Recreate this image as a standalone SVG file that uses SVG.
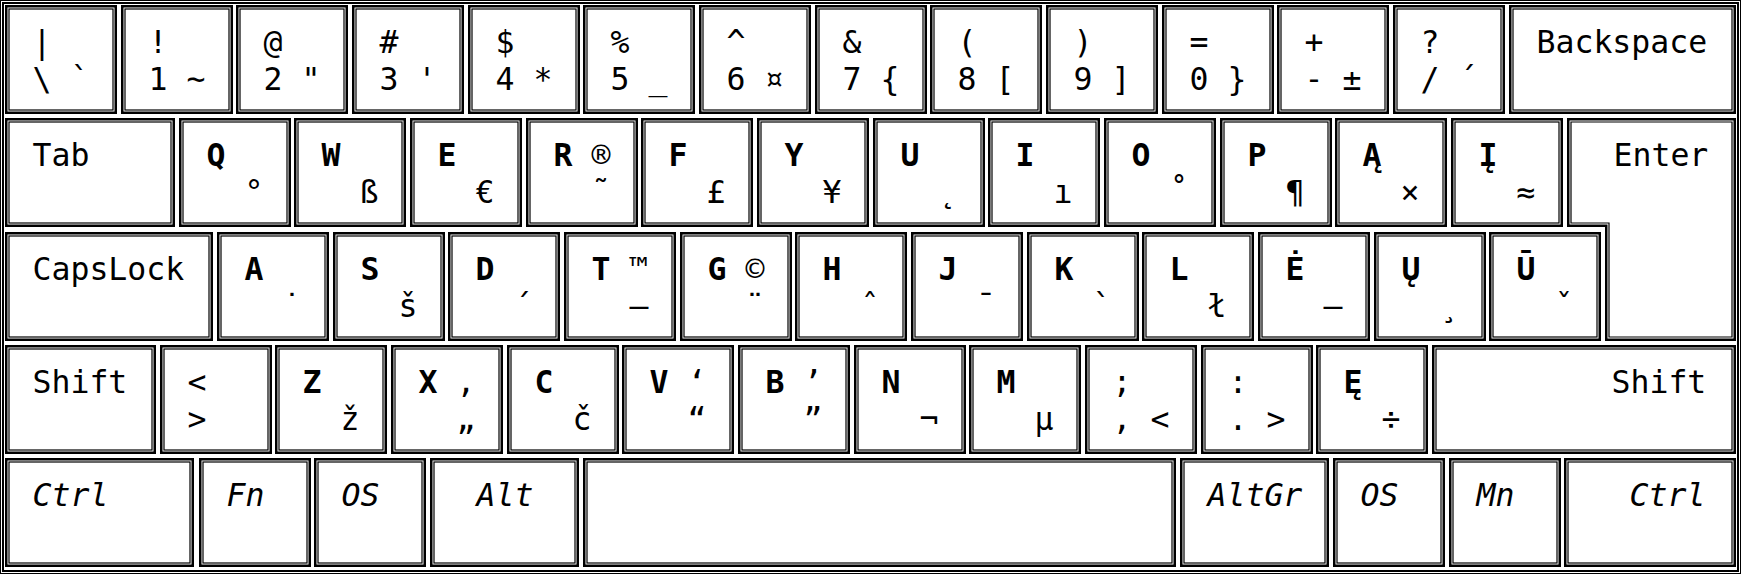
<svg xmlns="http://www.w3.org/2000/svg" xmlns:xlink="http://www.w3.org/1999/xlink" width="1741" height="574" viewBox="0 0 1741 574">
<style>
.o{fill:#fff;stroke:#000;stroke-width:2.5}
.n{fill:none;stroke:#000;stroke-width:1.2}
text{font-family:"DejaVu Sans Mono",monospace;font-size:31.5px;fill:#000}
.b{font-weight:bold}
.i{font-style:italic}
</style>
<defs>
<g id="u"><rect class="o" x="1.25" y="1.25" width="109.5" height="106.5"/><rect class="n" x="4" y="4" width="104" height="101"/></g>
</defs>
<rect x="0" y="0" width="1741" height="574" fill="#fff"/>
<g id="frame"><rect x="0.5" y="0.5" width="1740" height="573" fill="none" stroke="#000" stroke-width="1"/><rect x="3" y="3" width="1735" height="568" fill="none" stroke="#000" stroke-width="2"/></g>
<g id="connectors"></g>
<!-- Row 1 -->
<g id="k-backslash" transform="translate(5,5)"><use href="#u"/><text x="27.5" y="48">|</text><text x="27.5" y="85">\</text><text x="65.5" y="85">`</text></g>
<g id="k-1" transform="translate(121,5)"><use href="#u"/><text x="27.5" y="48">!</text><text x="27.5" y="85">1</text><text x="65.5" y="85">~</text></g>
<g id="k-2" transform="translate(236,5)"><use href="#u"/><text x="27.5" y="48">@</text><text x="27.5" y="85">2</text><text x="65.5" y="85">"</text></g>
<g id="k-3" transform="translate(352,5)"><use href="#u"/><text x="27.5" y="48">#</text><text x="27.5" y="85">3</text><text x="65.5" y="85">'</text></g>
<g id="k-4" transform="translate(468,5)"><use href="#u"/><text x="27.5" y="48">$</text><text x="27.5" y="85">4</text><text x="65.5" y="85">*</text></g>
<g id="k-5" transform="translate(583,5)"><use href="#u"/><text x="27.5" y="48">%</text><text x="27.5" y="85">5</text><text x="65.5" y="85">_</text></g>
<g id="k-6" transform="translate(699,5)"><use href="#u"/><text x="27.5" y="48">^</text><text x="27.5" y="85">6</text><text x="65.5" y="85">¤</text></g>
<g id="k-7" transform="translate(815,5)"><use href="#u"/><text x="27.5" y="48">&amp;</text><text x="27.5" y="85">7</text><text x="65.5" y="85">{</text></g>
<g id="k-8" transform="translate(930,5)"><use href="#u"/><text x="27.5" y="48">(</text><text x="27.5" y="85">8</text><text x="65.5" y="85">[</text></g>
<g id="k-9" transform="translate(1046,5)"><use href="#u"/><text x="27.5" y="48">)</text><text x="27.5" y="85">9</text><text x="65.5" y="85">]</text></g>
<g id="k-0" transform="translate(1162,5)"><use href="#u"/><text x="27.5" y="48">=</text><text x="27.5" y="85">0</text><text x="65.5" y="85">}</text></g>
<g id="k-minus" transform="translate(1277,5)"><use href="#u"/><text x="27.5" y="48">+</text><text x="27.5" y="85">-</text><text x="65.5" y="85">±</text></g>
<g id="k-slash" transform="translate(1393,5)"><use href="#u"/><text x="27.5" y="48">?</text><text x="27.5" y="85">/</text><text x="65.5" y="85">´</text></g>
<g id="k-backspace" transform="translate(1509,5)"><rect class="o" x="1.25" y="1.25" width="224.5" height="106.5"/><rect class="n" x="4" y="4" width="219" height="101"/><text x="27.5" y="48">Backspace</text></g>
<!-- Row 2 -->
<g id="k-tab" transform="translate(5,118)"><rect class="o" x="1.25" y="1.25" width="167.5" height="106.5"/><rect class="n" x="4" y="4" width="162" height="101"/><text x="27.5" y="48">Tab</text></g>
<g id="k-q" transform="translate(179,118)"><use href="#u"/><text class="b" x="27.5" y="48">Q</text><text x="65.5" y="85">°</text></g>
<g id="k-w" transform="translate(294,118)"><use href="#u"/><text class="b" x="27.5" y="48">W</text><text x="65.5" y="85">ß</text></g>
<g id="k-e" transform="translate(410,118)"><use href="#u"/><text class="b" x="27.5" y="48">E</text><text x="65.5" y="85">€</text></g>
<g id="k-r" transform="translate(526,118)"><use href="#u"/><text class="b" x="27.5" y="48">R</text><text x="65.5" y="48">®</text><text x="65.5" y="85">˜</text></g>
<g id="k-f" transform="translate(641,118)"><use href="#u"/><text class="b" x="27.5" y="48">F</text><text x="65.5" y="85">£</text></g>
<g id="k-y" transform="translate(757,118)"><use href="#u"/><text class="b" x="27.5" y="48">Y</text><text x="65.5" y="85">¥</text></g>
<g id="k-u" transform="translate(873,118)"><use href="#u"/><text class="b" x="27.5" y="48">U</text><text x="65.5" y="85">˛</text></g>
<g id="k-i" transform="translate(988,118)"><use href="#u"/><text class="b" x="27.5" y="48">I</text><text x="65.5" y="85">ı</text></g>
<g id="k-o" transform="translate(1104,118)"><use href="#u"/><text class="b" x="27.5" y="48">O</text><text x="65.5" y="85">˚</text></g>
<g id="k-p" transform="translate(1220,118)"><use href="#u"/><text class="b" x="27.5" y="48">P</text><text x="65.5" y="85">¶</text></g>
<g id="k-aogonek" transform="translate(1335,118)"><use href="#u"/><text class="b" x="27.5" y="48">Ą</text><text x="65.5" y="85">×</text></g>
<g id="k-iogonek" transform="translate(1451,118)"><use href="#u"/><text class="b" x="27.5" y="48">Į</text><text x="65.5" y="85">≈</text></g>
<g id="k-enter"><path class="o" d="M1568.25,119.25 H1734.75 V339.75 H1606.25 V225.75 H1568.25 Z"/><path class="n" d="M1571,122 H1732 V337 H1609 V223 H1571 Z"/><text x="1613.5" y="166">Enter</text></g>
<!-- Row 3 -->
<g id="k-capslock" transform="translate(5,232)"><rect class="o" x="1.25" y="1.25" width="205.5" height="106.5"/><rect class="n" x="4" y="4" width="200" height="101"/><text x="27.5" y="48">CapsLock</text></g>
<g id="k-a" transform="translate(217,232)"><use href="#u"/><text class="b" x="27.5" y="48">A</text><text x="65.5" y="85">˙</text></g>
<g id="k-s" transform="translate(333,232)"><use href="#u"/><text class="b" x="27.5" y="48">S</text><text x="65.5" y="85">š</text></g>
<g id="k-d" transform="translate(448,232)"><use href="#u"/><text class="b" x="27.5" y="48">D</text><text x="65.5" y="85">´</text></g>
<g id="k-t" transform="translate(564,232)"><use href="#u"/><text class="b" x="27.5" y="48">T</text><text x="65.5" y="48">™</text><text x="65.5" y="85">—</text></g>
<g id="k-g" transform="translate(680,232)"><use href="#u"/><text class="b" x="27.5" y="48">G</text><text x="65.5" y="48">©</text><text x="65.5" y="85">¨</text></g>
<g id="k-h" transform="translate(795,232)"><use href="#u"/><text class="b" x="27.5" y="48">H</text><text x="65.5" y="85">ˆ</text></g>
<g id="k-j" transform="translate(911,232)"><use href="#u"/><text class="b" x="27.5" y="48">J</text><text x="65.5" y="85">¯</text></g>
<g id="k-k" transform="translate(1027,232)"><use href="#u"/><text class="b" x="27.5" y="48">K</text><text x="65.5" y="85">`</text></g>
<g id="k-l" transform="translate(1142,232)"><use href="#u"/><text class="b" x="27.5" y="48">L</text><text x="65.5" y="85">ł</text></g>
<g id="k-edot" transform="translate(1258,232)"><use href="#u"/><text class="b" x="27.5" y="48">Ė</text><text x="65.5" y="85">–</text></g>
<g id="k-uogonek" transform="translate(1374,232)"><use href="#u"/><text class="b" x="27.5" y="48">Ų</text><text x="65.5" y="85">¸</text></g>
<g id="k-umacron" transform="translate(1489,232)"><use href="#u"/><text class="b" x="27.5" y="48">Ū</text><text x="65.5" y="85">ˇ</text></g>
<!-- Row 4 -->
<g id="k-lshift" transform="translate(5,345)"><rect class="o" x="1.25" y="1.25" width="148.5" height="106.5"/><rect class="n" x="4" y="4" width="143" height="101"/><text x="27.5" y="48">Shift</text></g>
<g id="k-less" transform="translate(160,345)"><use href="#u"/><text x="27.5" y="48">&lt;</text><text x="27.5" y="85">&gt;</text></g>
<g id="k-z" transform="translate(275,345)"><use href="#u"/><text class="b" x="27.5" y="48">Z</text><text x="65.5" y="85">ž</text></g>
<g id="k-x" transform="translate(391,345)"><use href="#u"/><text class="b" x="27.5" y="48">X</text><text x="65.5" y="48">‚</text><text x="65.5" y="85">„</text></g>
<g id="k-c" transform="translate(507,345)"><use href="#u"/><text class="b" x="27.5" y="48">C</text><text x="65.5" y="85">č</text></g>
<g id="k-v" transform="translate(622,345)"><use href="#u"/><text class="b" x="27.5" y="48">V</text><text x="65.5" y="48">‘</text><text x="65.5" y="85">“</text></g>
<g id="k-b" transform="translate(738,345)"><use href="#u"/><text class="b" x="27.5" y="48">B</text><text x="65.5" y="48">’</text><text x="65.5" y="85">”</text></g>
<g id="k-n" transform="translate(854,345)"><use href="#u"/><text class="b" x="27.5" y="48">N</text><text x="65.5" y="85">¬</text></g>
<g id="k-m" transform="translate(969,345)"><use href="#u"/><text class="b" x="27.5" y="48">M</text><text x="65.5" y="85">µ</text></g>
<g id="k-comma" transform="translate(1085,345)"><use href="#u"/><text x="27.5" y="48">;</text><text x="27.5" y="85">,</text><text x="65.5" y="85">&lt;</text></g>
<g id="k-period" transform="translate(1201,345)"><use href="#u"/><text x="27.5" y="48">:</text><text x="27.5" y="85">.</text><text x="65.5" y="85">&gt;</text></g>
<g id="k-eogonek" transform="translate(1316,345)"><use href="#u"/><text class="b" x="27.5" y="48">Ę</text><text x="65.5" y="85">÷</text></g>
<g id="k-rshift" transform="translate(1432,345)"><rect class="o" x="1.25" y="1.25" width="301.5" height="106.5"/><rect class="n" x="4" y="4" width="296" height="101"/><text x="179.5" y="48">Shift</text></g>
<!-- Row 5 -->
<g id="k-lctrl" transform="translate(5,458)"><rect class="o" x="1.25" y="1.25" width="186.5" height="106.5"/><rect class="n" x="4" y="4" width="181" height="101"/><text class="i" x="27.5" y="48">Ctrl</text></g>
<g id="k-fn" transform="translate(199,458)"><use href="#u"/><text class="i" x="27.5" y="48">Fn</text></g>
<g id="k-los" transform="translate(314,458)"><use href="#u"/><text class="i" x="27.5" y="48">OS</text></g>
<g id="k-alt" transform="translate(430,458)"><rect class="o" x="1.25" y="1.25" width="146.5" height="106.5"/><rect class="n" x="4" y="4" width="141" height="101"/><text class="i" x="46.5" y="48">Alt</text></g>
<g id="k-space" transform="translate(583,458)"><rect class="o" x="1.25" y="1.25" width="590.5" height="106.5"/><rect class="n" x="4" y="4" width="585" height="101"/></g>
<g id="k-altgr" transform="translate(1180,458)"><rect class="o" x="1.25" y="1.25" width="146.5" height="106.5"/><rect class="n" x="4" y="4" width="141" height="101"/><text class="i" x="27.5" y="48">AltGr</text></g>
<g id="k-ros" transform="translate(1333,458)"><use href="#u"/><text class="i" x="27.5" y="48">OS</text></g>
<g id="k-mn" transform="translate(1449,458)"><use href="#u"/><text class="i" x="27.5" y="48">Mn</text></g>
<g id="k-rctrl" transform="translate(1564,458)"><rect class="o" x="1.25" y="1.25" width="169.5" height="106.5"/><rect class="n" x="4" y="4" width="164" height="101"/><text class="i" x="65.5" y="48">Ctrl</text></g>
</svg>
